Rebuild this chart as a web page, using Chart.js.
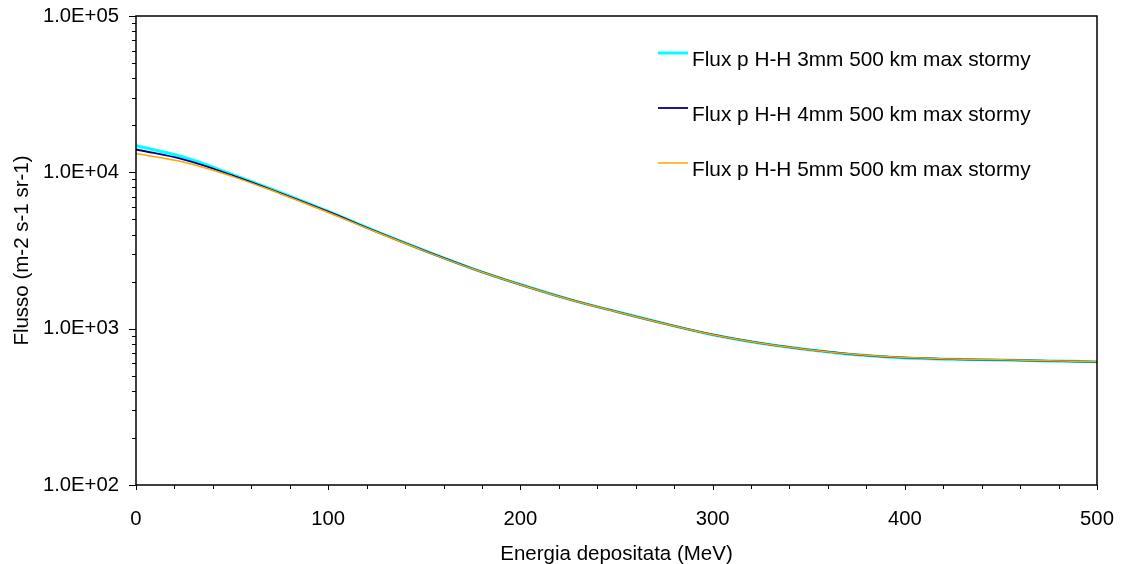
<!DOCTYPE html>
<html>
<head>
<meta charset="utf-8">
<script src="https://cdn.jsdelivr.net/npm/chart.js@4"></script>
<style>
  html, body { margin: 0; padding: 0; background: #fff; }
  #wrap { width: 1124px; height: 564px; }
</style>
</head>
<body>
<div id="wrap"><canvas id="fluxChart"></canvas></div>
<script>
// Energy deposited (MeV), x-axis
var energy = [0, 25, 50, 75, 100, 125, 150, 175, 200, 225, 250, 275, 300, 325, 350, 375, 400, 425, 450, 475, 500];
// Flux (m-2 s-1 sr-1) for each thickness
var flux3mm = [14790, 12500, 9710, 7440, 5620, 4186, 3162, 2424, 1915, 1546, 1285, 1077, 915, 807, 733, 680, 650, 638, 630, 622, 614];
var flux4mm = [14000, 12050, 9570, 7370, 5600, 4175, 3158, 2422, 1914, 1546, 1285, 1077, 915, 808, 734, 682, 652, 639, 631, 622, 614];
var flux5mm = [13200, 11600, 9425, 7300, 5540, 4150, 3145, 2416, 1911, 1544, 1284, 1076, 914, 808, 734, 683, 653, 640, 632, 623, 614];
var seriesNames = ['Flux p H-H 3mm 500 km max stormy', 'Flux p H-H 4mm 500 km max stormy', 'Flux p H-H 5mm 500 km max stormy'];
// labelled decades on the log axis
var yDecades = [100, 1000, 10000, 100000];
var yTickLabels = ['1.0E+02', '1.0E+03', '1.0E+04', '1.0E+05'];

var FONT = 'Liberation Sans, Arial, sans-serif';

function pts(ys) {
    return energy.map(function (e, i) { return { x: e, y: ys[i] }; });
}

// box round the plot, small outside tick marks and the legend inside the plot
var frame = {
    id: 'frame',
    afterDatasetsDraw: function (chart) {
        var c = chart.ctx, a = chart.chartArea;
        var xs = chart.scales.x, ys = chart.scales.y;
        c.save();
        c.strokeStyle = '#000';
        c.lineWidth = 1.5;
        c.strokeRect(a.left, a.top, a.right - a.left, a.bottom - a.top);

        c.lineWidth = 1;
        c.beginPath();
        for (var d = 100; d < 100000; d *= 10) {
            for (var m = 1; m <= 10; m++) {
                var y = Math.round(ys.getPixelForValue(d * m)) + 0.5;
                var len = (m === 1 || m === 10) ? 7 : 4;
                c.moveTo(a.left - len, y);
                c.lineTo(a.left, y);
            }
        }
        for (var v = 0; v <= 500; v += 20) {
            var x = Math.round(xs.getPixelForValue(v)) + 0.5;
            c.moveTo(x, a.bottom);
            c.lineTo(x, a.bottom + (v % 100 === 0 ? 5 : 4));
        }
        c.stroke();

        // legend, drawn in the dataset order
        var legY = [53, 108, 163];
        c.font = '20.8px ' + FONT;
        c.fillStyle = '#000';
        c.textBaseline = 'alphabetic';
        chart.data.datasets.forEach(function (ds, i) {
            c.strokeStyle = ds.borderColor;
            c.lineWidth = ds.borderWidth;
            c.beginPath();
            c.moveTo(658, legY[i]);
            c.lineTo(688, legY[i]);
            c.stroke();
            c.fillText(ds.label, 692, legY[i] + 13);
        });
        c.restore();
    }
};

new Chart(document.getElementById('fluxChart'), {
    type: 'line',
    data: {
        datasets: [
            { label: seriesNames[0], data: pts(flux3mm), borderColor: '#00FFFF', borderWidth: 3, order: 2 },
            { label: seriesNames[1], data: pts(flux4mm), borderColor: '#000080', borderWidth: 1.8, order: 1 },
            { label: seriesNames[2], data: pts(flux5mm), borderColor: '#FFA500', borderWidth: 1.5, order: 0 }
        ]
    },
    options: {
        responsive: true,
        maintainAspectRatio: false,
        animation: false,
        layout: { padding: { top: 16, right: 27, left: 0, bottom: 0 } },
        elements: {
            point: { radius: 0 },
            line: { tension: 0.4, fill: false }
        },
        plugins: {
            legend: { display: false },
            tooltip: { enabled: false }
        },
        scales: {
            x: {
                type: 'linear',
                min: 0,
                max: 500,
                afterFit: function (s) { s.height = 79; s.paddingLeft = 0; s.paddingRight = 0; },
                grid: { display: false, drawTicks: false },
                border: { display: false },
                ticks: { stepSize: 100, padding: 22, color: '#000', font: { family: FONT, size: 20.3 } },
                title: {
                    display: true,
                    text: 'Energia depositata (MeV)',
                    color: '#000',
                    font: { family: FONT, size: 20.5 },
                    padding: { top: 0, bottom: -3 }
                }
            },
            y: {
                type: 'logarithmic',
                min: 100,
                max: 100000,
                afterFit: function (s) { s.width = 136; s.paddingTop = 0; s.paddingBottom = 0; },
                grid: { display: false, drawTicks: false },
                border: { display: false },
                ticks: {
                    autoSkip: false,
                    padding: 17,
                    color: '#000',
                    font: { family: FONT, size: 20.3 },
                    callback: function (v) {
                        for (var i = 0; i < yDecades.length; i++) {
                            if (Math.abs(v - yDecades[i]) < 1e-6 * yDecades[i]) return yTickLabels[i];
                        }
                        return '';
                    }
                },
                title: {
                    display: true,
                    text: 'Flusso (m-2 s-1 sr-1)',
                    color: '#000',
                    font: { family: FONT, size: 20.5 },
                    padding: { top: 10, bottom: 0 }
                }
            }
        }
    },
    plugins: [frame]
});
</script>
</body>
</html>
